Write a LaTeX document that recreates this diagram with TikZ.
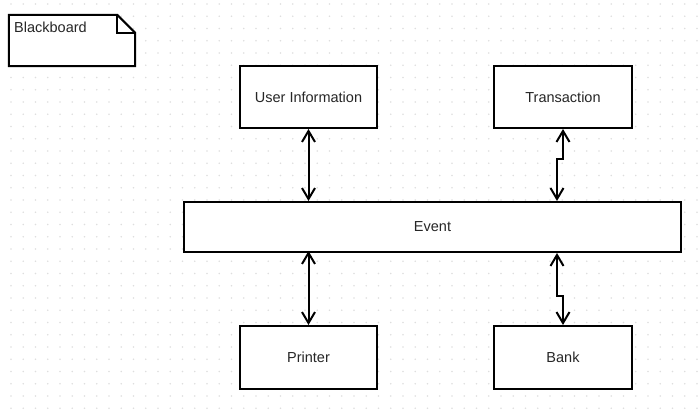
\documentclass[tikz,border=0pt]{standalone}
\usepackage{fontspec}
\setmainfont{Liberation Sans}
\usetikzlibrary{arrows.meta}
\begin{document}
\begin{tikzpicture}[x=1pt,y=-1pt,font=\fontsize{14.5}{17}\selectfont]
        \tikzstyle{block}=[rectangle,draw=black,line width=2pt,fill=white,text=black!85,inner sep=0pt]
        \tikzstyle{link}=[draw,line width=2pt,{Straight Barb[length=11pt,width=13pt]}-{Straight Barb[length=11pt,width=13pt]}]
        \useasboundingbox (0,0) rectangle (700,411);
        % dotted background
        \foreach \i in {0,...,56}
          \foreach \j in {0,...,33}
            \fill[black!13] (11+12.25*\i,4+12.25*\j) circle (0.8pt);
       \begin{scope}
         % note
         \node [minimum width=126pt,minimum height=51pt,inner sep=0pt] (bb) at (72,40.5) {};
         \draw[line width=2pt,fill=white] (bb.north west) -- ([xshift=-18pt]bb.north east) -- ([yshift=-18pt]bb.north east) -- (bb.south east) -- (bb.south west) -- cycle;
         \draw[line width=1.5pt] ([xshift=-18pt]bb.north east) -- ++(0,18) -- ([yshift=-18pt]bb.north east);
         \node [anchor=west,text=black!85,inner sep=0pt] (bblabel) at (14,27) {Blackboard};
         % boxes
         \node [block,minimum width=137pt,minimum height=62pt] (ui) at (308.5,97) {User Information};
         \node [block,minimum width=138pt,minimum height=62pt] (trans) at (563,97) {Transaction};
         \node [block,minimum width=497pt,minimum height=50pt] (event) at (432.5,227) {Event};
         \node [block,minimum width=137pt,minimum height=63pt] (printer) at (308.5,357.5) {Printer};
         \node [block,minimum width=138pt,minimum height=63pt] (bank) at (563,357.5) {Bank};
         % connectors
         \path[link] (ui.south) -- (ui.south |- event.north);
         \path[link] (trans.south) -- ++(0,30) -- ++(-6,0) coordinate (tj) -- (tj |- event.north);
         \path[link] (event.north -| printer.north) ++(0,50) coordinate (pj) -- (printer.north);
         \path[link] (bank.north) ++(-6,0) coordinate (bj0) (bj0 |- event.south) -- ++(0,43) -- ++(6,0) -- (bank.north);
        \end{scope}
      \end{tikzpicture}
\end{document}
